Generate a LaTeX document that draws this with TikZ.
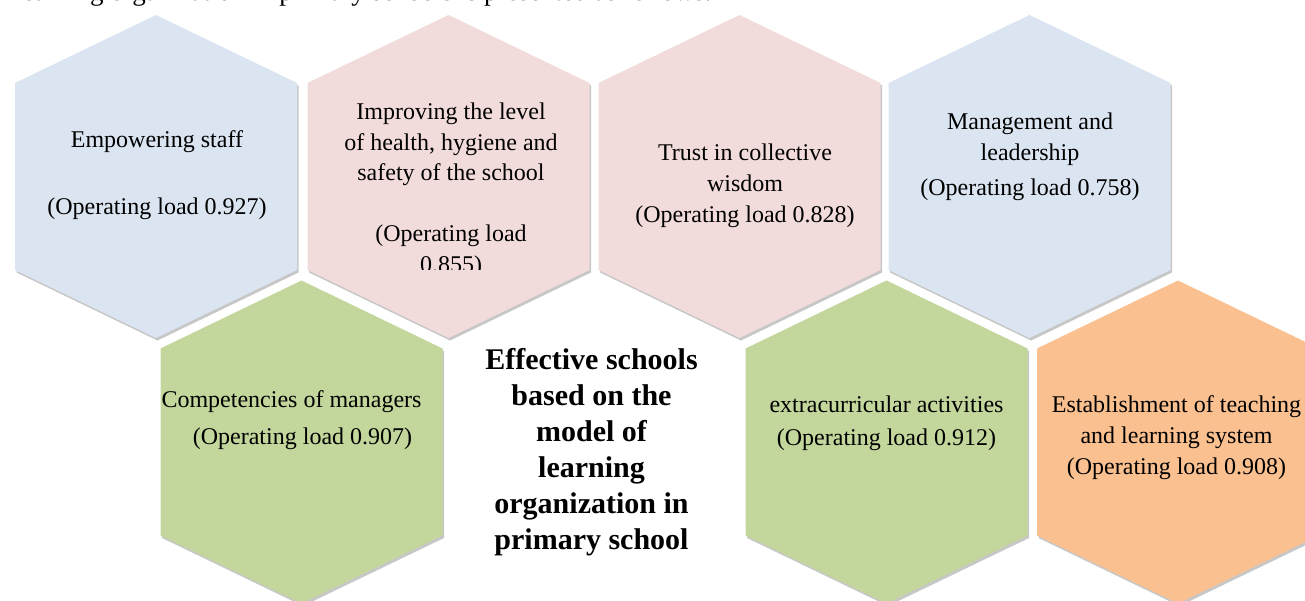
\documentclass[tikz,border=0pt]{standalone}
\usepackage{fontspec}
\setmainfont{Liberation Serif}
\usetikzlibrary{shadows}

\definecolor{paleblue}{HTML}{DBE5F1}
\definecolor{palepink}{HTML}{F2DCDB}
\definecolor{olivegreen}{HTML}{C3D69B}
\definecolor{peach}{HTML}{FAC090}

\begin{document}
\begin{tikzpicture}[
    x=1pt, y=-1pt,
    hexfill/.style={drop shadow={shadow xshift=1.5pt, shadow yshift=-2.5pt, fill=black, opacity=0.22}},
    hexa/.pic={\fill[hexfill, pic actions] (0,-161.5) -- (141,-93.5) -- (141,93.5) -- (0,161.5) -- (-141,93.5) -- (-141,-93.5) -- cycle;},
    factor/.style={align=center, inner sep=0pt, font=\fontsize{24}{31}\selectfont},
    core/.style={align=center, inner sep=0pt, font=\bfseries\fontsize{30}{36}\selectfont}
]
    \useasboundingbox (0,0) rectangle (1305,601);
    \clip (0,0) rectangle (1305,601);

    % sentence cut off at the top of the page
    \node[anchor=base west, inner sep=0pt, font=\fontsize{27}{34}\selectfont] (intro) at (15,0.5) {learning organization in primary schools is presented as follows.};

    % upper row
    \pic[fill=paleblue] at (156,176.5) {hexa};
    \pic[fill=palepink] at (448.5,176.5) {hexa};
    \pic[fill=palepink] at (739.5,176.5) {hexa};
    \pic[fill=paleblue] at (1029.5,176.5) {hexa};

    % lower row
    \pic[fill=olivegreen] at (301.5,442) {hexa};
    \pic[fill=olivegreen] at (886.5,442) {hexa};
    \pic[fill=peach] at (1178,442) {hexa};

    % labels
    \node[factor] (empower) at (157,175) {Empowering staff\\[36pt](Operating load 0.927)};
    \begin{scope}
        \clip (300,0) rectangle (600,270);
        \node[factor, font=\fontsize{24}{30.5}\selectfont] (health) at (451,190) {Improving the level\\of health, hygiene and\\safety of the school\\[30.5pt](Operating load\\0.855)};
    \end{scope}
    \node[factor] (trust) at (745,185.5) {Trust in collective\\wisdom\\(Operating load 0.828)};
    \node[factor] (manage) at (1030,157) {Management and\\leadership\\[4pt](Operating load 0.758)};
    \node[factor] (compet) at (302.5,420) {Competencies of managers\hspace*{22pt}\\[6pt](Operating load 0.907)};
    \node[core] (model) at (591.5,452) {Effective schools\\based on the\\model of\\learning\\organization in\\primary school};
    \node[factor] (extra) at (886.5,423) {extracurricular activities\\[2pt](Operating load 0.912)};
    \node[factor] (establish) at (1176.5,438) {Establishment of teaching\\and learning system\\(Operating load 0.908)};
\end{tikzpicture}
\end{document}
